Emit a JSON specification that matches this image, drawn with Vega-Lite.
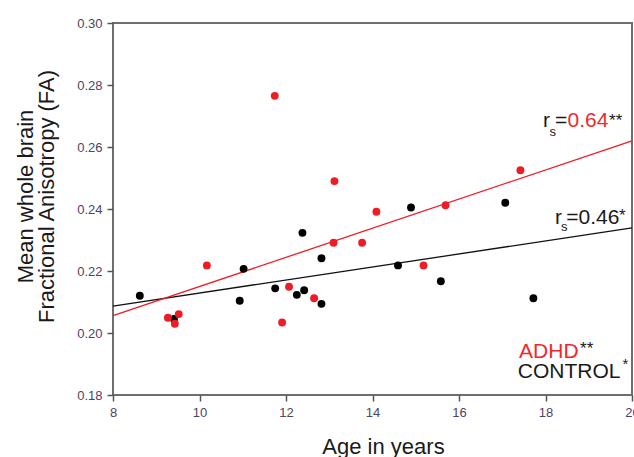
{
  "$schema": "https://vega.github.io/schema/vega-lite/v6.json",
  "width": 519,
  "height": 372,
  "autosize": {"type": "none"},
  "padding": {"left": 113, "top": 23, "right": 2, "bottom": 62},
  "background": "white",
  "data": {"values": [{}]},
  "config": {
    "view": {"stroke": "#6e6e6e", "strokeWidth": 2},
    "font": "Liberation Sans",
    "axis": {
      "grid": false,
      "domain": false,
      "labelFlush": false,
      "tickColor": "#555555",
      "tickWidth": 1.5,
      "tickSize": 6,
      "labelFont": "Liberation Sans",
      "labelFontSize": 13,
      "labelColor": "#4a4566",
      "titleFont": "Liberation Sans",
      "titleFontSize": 22,
      "titleFontWeight": "normal",
      "titleColor": "#1a1a1a"
    }
  },
  "datasets": {
    "points": [
      {"group": "CONTROL", "age": 8.62, "fa": 0.2120},
      {"group": "CONTROL", "age": 9.41, "fa": 0.2045},
      {"group": "CONTROL", "age": 10.93, "fa": 0.2104},
      {"group": "CONTROL", "age": 11.02, "fa": 0.2207},
      {"group": "CONTROL", "age": 11.75, "fa": 0.2144},
      {"group": "CONTROL", "age": 12.25, "fa": 0.2123},
      {"group": "CONTROL", "age": 12.42, "fa": 0.2138},
      {"group": "CONTROL", "age": 12.38, "fa": 0.2323},
      {"group": "CONTROL", "age": 12.82, "fa": 0.2241},
      {"group": "CONTROL", "age": 12.82, "fa": 0.2094},
      {"group": "CONTROL", "age": 14.59, "fa": 0.2218},
      {"group": "CONTROL", "age": 14.89, "fa": 0.2405},
      {"group": "CONTROL", "age": 15.58, "fa": 0.2167},
      {"group": "CONTROL", "age": 17.07, "fa": 0.2420},
      {"group": "CONTROL", "age": 17.72, "fa": 0.2112},
      {"group": "ADHD", "age": 9.27, "fa": 0.2049},
      {"group": "ADHD", "age": 9.43, "fa": 0.2030},
      {"group": "ADHD", "age": 9.52, "fa": 0.2061},
      {"group": "ADHD", "age": 10.17, "fa": 0.2218},
      {"group": "ADHD", "age": 11.74, "fa": 0.2765},
      {"group": "ADHD", "age": 11.91, "fa": 0.2034},
      {"group": "ADHD", "age": 12.07, "fa": 0.2149},
      {"group": "ADHD", "age": 12.65, "fa": 0.2112},
      {"group": "ADHD", "age": 13.10, "fa": 0.2291},
      {"group": "ADHD", "age": 13.12, "fa": 0.2490},
      {"group": "ADHD", "age": 13.76, "fa": 0.2291},
      {"group": "ADHD", "age": 14.09, "fa": 0.2391},
      {"group": "ADHD", "age": 15.18, "fa": 0.2218},
      {"group": "ADHD", "age": 15.69, "fa": 0.2412},
      {"group": "ADHD", "age": 17.42, "fa": 0.2525}
    ],
    "fits": [
      {"group": "CONTROL", "age": 8, "fa": 0.2087},
      {"group": "CONTROL", "age": 20, "fa": 0.2339},
      {"group": "ADHD", "age": 8, "fa": 0.2056},
      {"group": "ADHD", "age": 20, "fa": 0.2620}
    ]
  },
  "layer": [
    {
      "data": {"name": "fits"},
      "transform": [{"filter": "datum.group === 'CONTROL'"}],
      "mark": {"type": "line", "color": "#111111", "strokeWidth": 1.3},
      "encoding": {
        "x": {"field": "age", "type": "quantitative", "scale": {"domain": [8, 20], "nice": false, "zero": false},
          "axis": {"values": [8, 10, 12, 14, 16, 18, 20], "format": "d", "labelPadding": 5, "title": "Age in years",
            "titleX": 270, "titleY": 58, "titleBaseline": "alphabetic"}},
        "y": {"field": "fa", "type": "quantitative", "scale": {"domain": [0.18, 0.30], "nice": false, "zero": false},
          "axis": {"values": [0.18, 0.20, 0.22, 0.24, 0.26, 0.28, 0.30], "format": ".2f", "labelPadding": 5,
            "title": ["Mean whole brain", "Fractional Anisotropy (FA)"], "titleX": -81, "titleY": 173,
            "titleAngle": -90, "titleAlign": "center", "titleBaseline": "alphabetic", "titleLineHeight": 21}}
      }
    },
    {
      "data": {"name": "fits"},
      "transform": [{"filter": "datum.group === 'ADHD'"}],
      "mark": {"type": "line", "color": "#ee1c25", "strokeWidth": 1.3},
      "encoding": {
        "x": {"field": "age", "type": "quantitative"},
        "y": {"field": "fa", "type": "quantitative"}
      }
    },
    {
      "data": {"name": "points"},
      "transform": [{"filter": "datum.group === 'CONTROL'"}],
      "mark": {"type": "circle", "color": "#000000", "opacity": 1, "size": 62},
      "encoding": {
        "x": {"field": "age", "type": "quantitative"},
        "y": {"field": "fa", "type": "quantitative"}
      }
    },
    {
      "data": {"name": "points"},
      "transform": [{"filter": "datum.group === 'ADHD'"}],
      "mark": {"type": "circle", "color": "#ee1c25", "opacity": 1, "size": 62},
      "encoding": {
        "x": {"field": "age", "type": "quantitative"},
        "y": {"field": "fa", "type": "quantitative"}
      }
    },
    {"mark": {"type": "text", "text": "r", "align": "left", "baseline": "alphabetic", "fontSize": 21, "color": "#1a1a1a"},
     "encoding": {"x": {"datum": 17.94}, "y": {"datum": 0.2664}}},
    {"mark": {"type": "text", "text": "s", "align": "left", "baseline": "alphabetic", "fontSize": 13, "color": "#1a1a1a"},
     "encoding": {"x": {"datum": 18.09}, "y": {"datum": 0.2637}}},
    {"mark": {"type": "text", "text": "=", "align": "left", "baseline": "alphabetic", "fontSize": 21, "color": "#1a1a1a"},
     "encoding": {"x": {"datum": 18.22}, "y": {"datum": 0.2664}}},
    {"mark": {"type": "text", "text": "0.64", "align": "left", "baseline": "alphabetic", "fontSize": 21, "color": "#f0282d"},
     "encoding": {"x": {"datum": 18.51}, "y": {"datum": 0.2664}}},
    {"mark": {"type": "text", "text": "**", "align": "left", "baseline": "alphabetic", "fontSize": 17, "color": "#1a1a1a"},
     "encoding": {"x": {"datum": 19.47}, "y": {"datum": 0.2669}}},
    {"mark": {"type": "text", "text": "r", "align": "left", "baseline": "alphabetic", "fontSize": 21, "color": "#1a1a1a"},
     "encoding": {"x": {"datum": 18.22}, "y": {"datum": 0.2353}}},
    {"mark": {"type": "text", "text": "s", "align": "left", "baseline": "alphabetic", "fontSize": 13, "color": "#1a1a1a"},
     "encoding": {"x": {"datum": 18.36}, "y": {"datum": 0.2328}}},
    {"mark": {"type": "text", "text": "=0.46", "align": "left", "baseline": "alphabetic", "fontSize": 21, "color": "#1a1a1a"},
     "encoding": {"x": {"datum": 18.48}, "y": {"datum": 0.2353}}},
    {"mark": {"type": "text", "text": "*", "align": "left", "baseline": "alphabetic", "fontSize": 17, "color": "#1a1a1a"},
     "encoding": {"x": {"datum": 19.70}, "y": {"datum": 0.2362}}},
    {"mark": {"type": "text", "text": "ADHD", "align": "left", "baseline": "alphabetic", "fontSize": 21, "color": "#f0282d"},
     "encoding": {"x": {"datum": 17.39}, "y": {"datum": 0.1918}}},
    {"mark": {"type": "text", "text": "**", "align": "left", "baseline": "alphabetic", "fontSize": 17, "color": "#1a1a1a"},
     "encoding": {"x": {"datum": 18.80}, "y": {"datum": 0.1932}}},
    {"mark": {"type": "text", "text": "CONTROL", "align": "left", "baseline": "alphabetic", "fontSize": 21, "color": "#1a1a1a"},
     "encoding": {"x": {"datum": 17.36}, "y": {"datum": 0.1855}}},
    {"mark": {"type": "text", "text": "*", "align": "left", "baseline": "alphabetic", "fontSize": 15, "color": "#1a1a1a"},
     "encoding": {"x": {"datum": 19.78}, "y": {"datum": 0.1884}}}
  ]
}
